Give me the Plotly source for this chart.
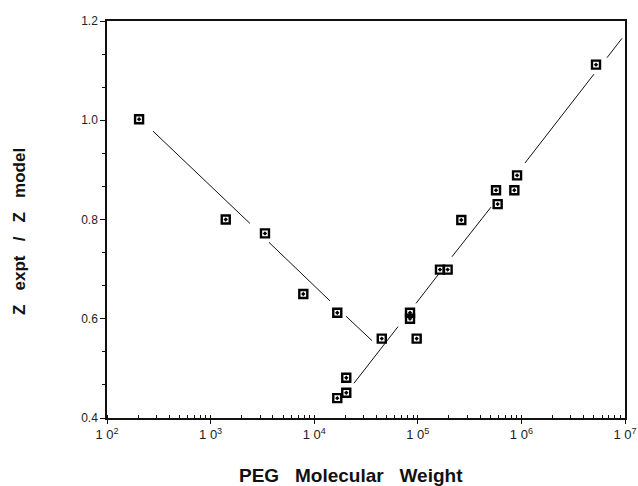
import plotly.graph_objects as go

# Data points (PEG molecular weight vs Z expt / Z model)
mw = [204, 1400, 3350, 7850, 16700, 44900, 16700, 20400, 20400, 84100,
      84100, 97500, 163700, 194000, 263000, 569000, 590000, 855000, 908000, 5250000]
ratio = [1.002, 0.800, 0.772, 0.650, 0.612, 0.560, 0.440, 0.451, 0.481, 0.612,
         0.600, 0.560, 0.699, 0.699, 0.799, 0.859, 0.831, 0.859, 0.889, 1.112]

# Fitted lines (drawn broken near markers, as in the original)
left_x = [278, 2400, None, 3660, 14200, None, 20300, 36100]
left_y = [0.978, 0.792, None, 0.754, 0.636, None, 0.605, 0.556]
right_x = [24200, 64400, None, 96200, 160300, None, 213800, 509000, None,
           1084000, 5020000, None, 6700000, 9350000]
right_y = [0.470, 0.584, None, 0.631, 0.691, None, 0.725, 0.825, None,
           0.914, 1.093, None, 1.126, 1.165]

x_tickvals = [1e2, 1e3, 1e4, 1e5, 1e6, 1e7]
x_ticktext = ["1 0<sup>2</sup>", "1 0<sup>3</sup>", "1 0<sup>4</sup>",
              "1 0<sup>5</sup>", "1 0<sup>6</sup>", "1 0<sup>7</sup>"]
y_tickvals = [0.4, 0.6, 0.8, 1.0, 1.2]

fig = go.Figure()
fig.add_trace(go.Scatter(x=left_x, y=left_y, mode="lines",
                         line=dict(color="#111", width=1), connectgaps=False,
                         showlegend=False, hoverinfo="skip"))
fig.add_trace(go.Scatter(x=right_x, y=right_y, mode="lines",
                         line=dict(color="#111", width=1), connectgaps=False,
                         showlegend=False, hoverinfo="skip"))
fig.add_trace(go.Scatter(x=mw, y=ratio, mode="markers",
                         marker=dict(symbol="square-open-dot", size=8, color="#000",
                                     line=dict(color="#000", width=2.4)),
                         showlegend=False))

font_family = "Liberation Sans, Arial, Helvetica, sans-serif"
sp = "&nbsp;&nbsp;&nbsp;"

fig.update_layout(
    width=638, height=486,
    margin=dict(l=107, r=13, t=21, b=68),
    paper_bgcolor="white", plot_bgcolor="white",
    font=dict(family=font_family, size=11, color="#222"),
    xaxis=dict(
        type="log", range=[2, 7], automargin=False,
        tickvals=x_tickvals, ticktext=x_ticktext,
        ticks="outside", ticklen=4, tickwidth=1.2, tickcolor="#111",
        showgrid=False, zeroline=False,
        showline=True, linecolor="#111", linewidth=1.5, mirror=True,
        minor=dict(ticks="inside", ticklen=3, tickcolor="#111", tickwidth=1,
                   dtick="D1", showgrid=False),
        tickfont=dict(size=13, color="#222"),
    ),
    yaxis=dict(
        range=[0.4, 1.2], automargin=False,
        tickvals=y_tickvals, tickformat=".1f",
        ticks="outside", ticklen=5, tickwidth=1.2, tickcolor="#111",
        showgrid=False, zeroline=False,
        showline=True, linecolor="#111", linewidth=1.5, mirror=True,
        minor=dict(ticks="outside", ticklen=3, tickcolor="#111", tickwidth=1,
                   tick0=0.4, dtick=0.2 / 3, showgrid=False),
        tickfont=dict(size=12, color="#222"),
    ),
    annotations=[
        dict(text="<b>PEG" + sp + "Molecular" + sp + "Weight</b>", xref="paper", yref="paper",
             x=(351 - 107) / 518, y=-(475 - 418) / 397, xanchor="center", yanchor="middle",
             showarrow=False, font=dict(family=font_family, size=19, color="#111")),
        dict(text="<b>Z" + sp + "expt" + sp + "/" + sp + "Z" + sp + "model</b>",
             xref="paper", yref="paper",
             x=-(107 - 19) / 518, y=(418 - 232) / 397, xanchor="center", yanchor="middle",
             textangle=-90, showarrow=False,
             font=dict(family=font_family, size=17, color="#111")),
    ],
)

fig.write_html("out.html", config={"displayModeBar": False},
               post_script="document.body.style.margin='0';document.body.style.padding='0';")
